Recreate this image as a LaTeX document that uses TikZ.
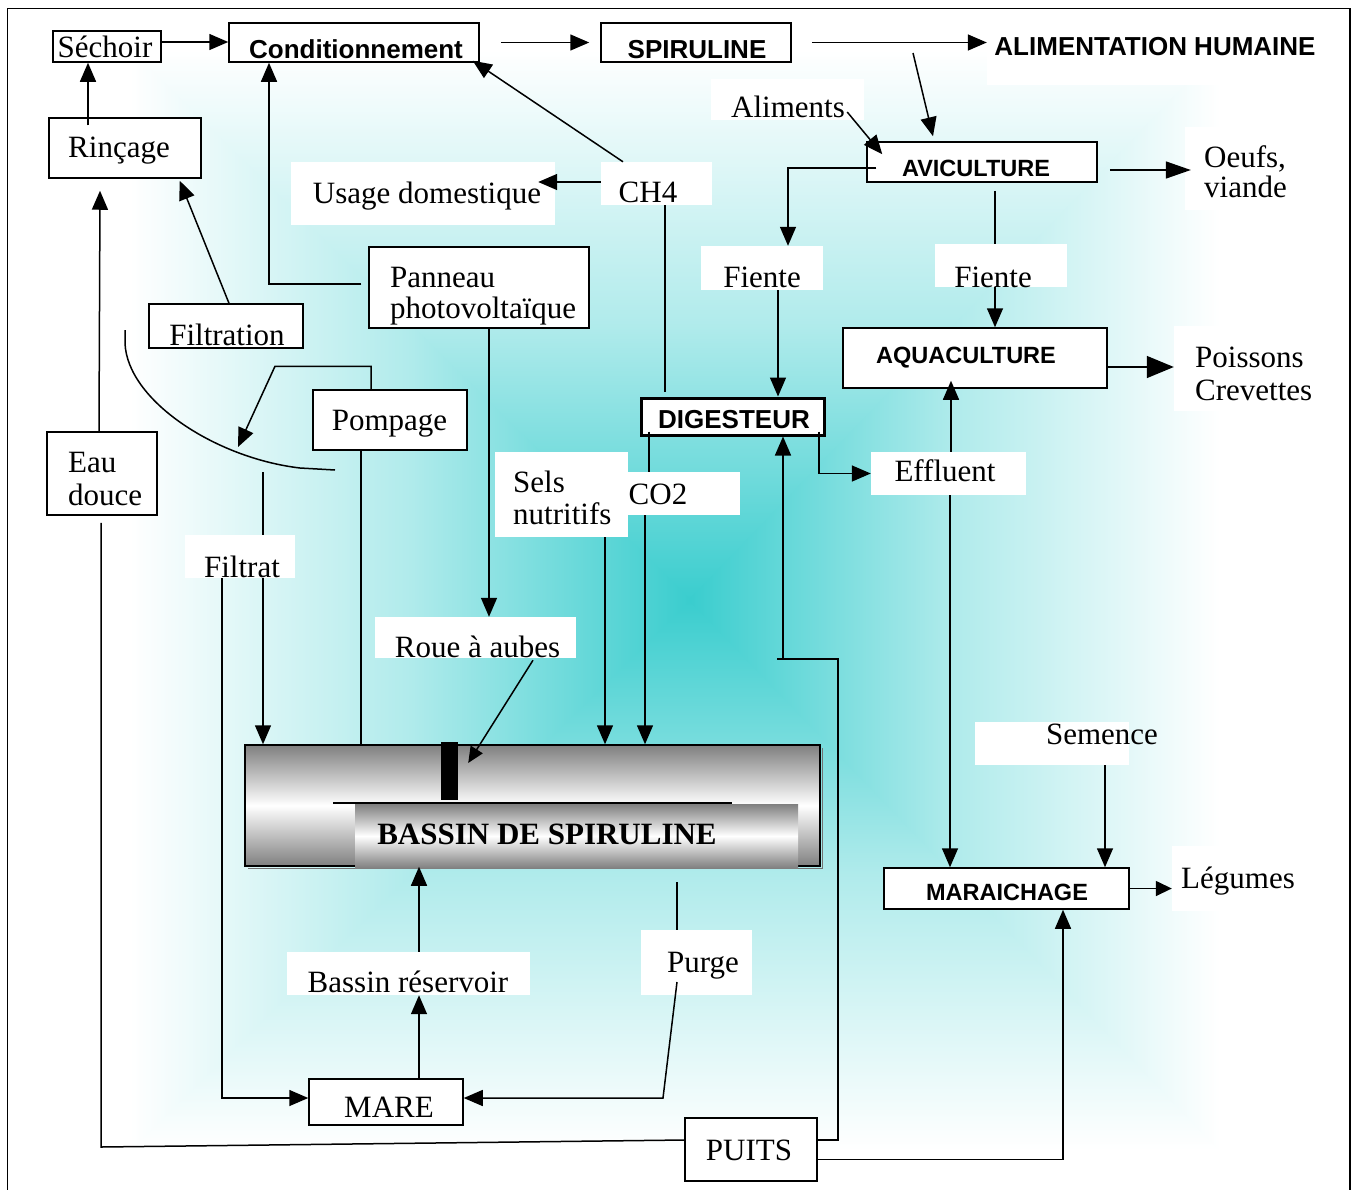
\documentclass[tikz,border=0pt]{standalone}
\usepackage{fontspec}
\setmainfont{Liberation Serif}
\newfontfamily\hsans{Liberation Sans}
\usetikzlibrary{arrows.meta}
\definecolor{tealc}{RGB}{58,205,206}
\begin{document}
\begin{tikzpicture}[x=1pt,y=-1pt,
  box/.style={draw, fill=white, line width=1.5pt, inner sep=0pt},
  lab/.style={fill=white, inner sep=0pt},
  tx/.style={font=\fontsize{31}{33}\selectfont, inner sep=0pt, anchor=base},
  txl/.style={font=\fontsize{31}{33}\selectfont, inner sep=0pt, anchor=base west},
  bs/.style={font=\hsans\bfseries\fontsize{26}{28}\selectfont, inner sep=0pt, anchor=base},
  bss/.style={font=\hsans\bfseries\fontsize{23.5}{26}\selectfont, inner sep=0pt, anchor=base},
  ln/.style={line width=1.5pt},
  arr/.style={line width=1.5pt, -{Triangle[length=19pt,width=16pt]}},
  bigarr/.style={line width=1.5pt, -{Triangle[length=27pt,width=22pt]}}]
\useasboundingbox (0,0) rectangle (1354,1189);
% background gradient (rectangular, from centre)
\begin{scope}
  \clip (8,9) rectangle (1349,1189);
  \begin{scope}
    \clip (130,50) -- (1220,50) -- (690,600) -- cycle;
    \shade[top color=white, bottom color=tealc, middle color=tealc!40!white] (130,50) rectangle (1220,600);
  \end{scope}
  \begin{scope}
    \clip (130,1150) -- (1220,1150) -- (690,600) -- cycle;
    \shade[top color=tealc, bottom color=white, middle color=tealc!40!white] (130,600) rectangle (1220,1150);
  \end{scope}
  \begin{scope}
    \clip (130,49) -- (691,600) -- (130,1151) -- cycle;
    \shade[left color=white, right color=tealc, middle color=tealc!40!white] (130,40) rectangle (690,1160);
  \end{scope}
  \begin{scope}
    \clip (1220,49) -- (689,600) -- (1220,1151) -- cycle;
    \shade[left color=tealc, right color=white, middle color=tealc!40!white] (690,40) rectangle (1220,1160);
  \end{scope}
\end{scope}
\draw[line width=1.8pt] (7.5,1195) -- (7.5,8.5) -- (1350,8.5) -- (1350,1195);

% boxes and labels
\node[box, minimum width=108pt, minimum height=31pt] (sech) at (107,46.5) {};
\node[tx] (sech-t) at (105,57) {Séchoir};
\node[box, minimum width=250pt, minimum height=39pt] (cond) at (354,42.5) {};
\node[bs] (cond-t) at (356,58) {Conditionnement};
\node[box, minimum width=190pt, minimum height=39pt] (spir) at (696,42.5) {};
\node[bs] (spir-t) at (697,58) {SPIRULINE};
\node[lab, minimum width=326pt, minimum height=60pt] (alim) at (1150,55) {};
\node[bs] (alim-t) at (1155,55) {ALIMENTATION HUMAINE};
\node[lab, minimum width=153pt, minimum height=41pt] (alimts) at (787.5,99.5) {};
\node[tx] (alimts-t) at (788,117) {Aliments};
\node[lab, minimum width=264pt, minimum height=63pt] (usage) at (423,193.5) {};
\node[tx] (usage-t) at (427,203) {Usage domestique};
\node[lab, minimum width=111pt, minimum height=43pt] (ch4) at (656.5,183.5) {};
\node[tx] (ch4-t) at (648,202) {CH4};
\node[box, minimum width=152pt, minimum height=60pt] (rinc) at (125,148) {};
\node[tx] (rinc-t) at (119,157) {Rinçage};
\node[box, minimum width=230pt, minimum height=40pt] (avic) at (982,162) {};
\node[bss] (avic-t) at (976,176) {AVICULTURE};
\node[lab, minimum width=135pt, minimum height=83pt] (oeufs) at (1252.5,168.5) {};
\node[txl] (oeufs-t1) at (1204,167) {Oeufs,};
\node[txl] (oeufs-t2) at (1204,197) {viande};
\node[lab, minimum width=122pt, minimum height=44pt] (fiente1) at (762,268) {};
\node[tx] (fiente1-t) at (762,287) {Fiente};
\node[lab, minimum width=132pt, minimum height=43pt] (fiente2) at (1001,265.5) {};
\node[tx] (fiente2-t) at (993,287) {Fiente};
\node[box, minimum width=220pt, minimum height=81pt] (panneau) at (479,287.5) {};
\node[txl] (panneau-t1) at (390,287) {Panneau};
\node[txl] (panneau-t2) at (390,318) {photovoltaïque};
\node[box, minimum width=154pt, minimum height=44pt] (filtration) at (226,326) {};
\node[tx] (filtration-t) at (227,345) {Filtration};
\node[box, minimum width=264pt, minimum height=60pt] (aqua) at (975,358) {};
\node[bss] (aqua-t) at (966,363) {AQUACULTURE};
\node[lab, minimum width=146pt, minimum height=85pt] (poiss) at (1247,368.5) {};
\node[txl] (poiss-t1) at (1195,367) {Poissons};
\node[txl] (poiss-t2) at (1195,400) {Crevettes};
\node[box, minimum width=154pt, minimum height=60pt] (pomp) at (390,420) {};
\node[tx] (pomp-t) at (389.5,430) {Pompage};
\node[box, line width=3pt, minimum width=183pt, minimum height=37pt] (dig) at (732.5,416.5) {};
\node[bs] (dig-t) at (734,428) {DIGESTEUR};
\node[lab, minimum width=155pt, minimum height=43pt] (effl) at (948.5,473.5) {};
\node[tx] (effl-t) at (945,481) {Effluent};
\node[box, minimum width=110pt, minimum height=83pt] (eau) at (102,473.5) {};
\node[txl] (eau-t1) at (68,472) {Eau};
\node[txl] (eau-t2) at (68,505) {douce};
\node[lab, minimum width=133pt, minimum height=85pt] (sels) at (561.5,494.5) {};
\node[txl] (sels-t1) at (513,492) {Sels};
\node[txl] (sels-t2) at (513,524) {nutritifs};
\node[lab, minimum width=112pt, minimum height=43pt] (co2) at (684,493.5) {};
\node[tx] (co2-t) at (658,504) {CO2};
\node[lab, minimum width=110pt, minimum height=43pt] (filtrat) at (240,556.5) {};
\node[tx] (filtrat-t) at (242,577) {Filtrat};
\node[lab, minimum width=201pt, minimum height=41pt] (roue) at (475.5,637.5) {};
\node[tx] (roue-t) at (477.5,657) {Roue à aubes};
\node[lab, minimum width=154pt, minimum height=43pt] (semence) at (1052,743.5) {};
\node[tx] (semence-t) at (1102,744) {Semence};
\node[box, minimum width=245pt, minimum height=41pt] (mara) at (1006.5,888.5) {};
\node[bss] (mara-t) at (1007,900) {MARAICHAGE};
\node[lab, minimum width=133pt, minimum height=65pt] (legumes) at (1238.5,878.5) {};
\node[tx] (legumes-t) at (1238,888) {Légumes};
\node[lab, minimum width=243pt, minimum height=43pt] (bres) at (408.5,973.5) {};
\node[tx] (bres-t) at (408,992) {Bassin réservoir};
\node[lab, minimum width=111pt, minimum height=65pt] (purge) at (696.5,962.5) {};
\node[tx] (purge-t) at (703,972) {Purge};
\node[box, minimum width=154pt, minimum height=46pt] (mare) at (386,1102) {};
\node[tx] (mare-t) at (389,1117) {MARE};
\node[box, minimum width=132pt, minimum height=63pt] (puits) at (751,1149.5) {};
\node[tx] (puits-t) at (749,1160) {PUITS};

% bassin
\draw[black!55, line width=1.5pt] (248,868.5) -- (822.5,868.5) -- (822.5,748);
\node[draw, line width=1.5pt, top color=black!50, bottom color=black!50, middle color=white,
      minimum width=575pt, minimum height=121pt, inner sep=0pt] (bassin) at (532.5,805.5) {};
\node[top color=black!50, bottom color=black!50, middle color=white,
      minimum width=443pt, minimum height=64pt, inner sep=0pt] (inner) at (576.5,836) {};
\draw[line width=1.2pt] (333,803) -- (732,803);
\node[font=\bfseries\fontsize{31}{33}\selectfont, inner sep=0pt, anchor=base] (bassin-t) at (547,844) {BASSIN DE SPIRULINE};
\node[fill=black, minimum width=17pt, minimum height=58pt, inner sep=0pt] (paddle) at (449.5,771) {};

% connectors
\coordinate (s1) at ([yshift=4.5pt]sech.east);
\draw[arr] (s1) -- (s1 -| cond.west);
\coordinate (s2) at ([xshift=21pt]cond.east);
\coordinate (s2e) at ([xshift=-11pt]spir.west);
\draw[arr] (s2) -- (s2e);
\coordinate (s3) at ([xshift=20pt]spir.east);
\draw[arr] (s3) -- (s3 -| alim.west);
\coordinate (s4) at (913,53);
\coordinate (s4e) at ([xshift=-49pt,yshift=5pt]avic.north);
\draw[arr] (s4) -- (s4e);
\coordinate (s5) at ([xshift=-17pt,yshift=-12.5pt]alimts.east);
\coordinate (s5e) at ([xshift=16pt,yshift=-13pt]avic.north west);
\draw[arr] (s5) -- (s5e);
\coordinate (s6) at ([xshift=12pt,yshift=-8pt]avic.east);
\coordinate (s6e) at ([xshift=6pt]s6 -| oeufs.west);
\draw[line width=1.5pt, -{Triangle[length=25pt,width=17pt]}] (s6) -- (s6e);
\coordinate (s7) at ([xshift=10pt,yshift=-6pt]avic.west);
\coordinate (s7e) at ([xshift=26pt]fiente1.north);
\draw[arr] (s7) -| (s7e);
\coordinate (s8) at ([xshift=13pt,yshift=-8pt]avic.south);
\draw[ln] (s8) -- (s8 |- fiente2.north);
\draw[arr] (s8 |- fiente2.south) -- (s8 |- aqua.north);
\coordinate (s9) at ([xshift=16pt]fiente1.south);
\draw[arr] (s9) -- (s9 |- dig.north);
\coordinate (s10) at ([xshift=8.5pt]ch4.south);
\coordinate (s10e) at ([xshift=-67.5pt,yshift=5pt]dig.north);
\draw[ln] (s10) -- (s10e);
\coordinate (s11) at ([xshift=-33.5pt]ch4.north);
\coordinate (s11e) at ([xshift=-7pt,yshift=2pt]cond.south east);
\draw[arr] (s11) -- (s11e);
\coordinate (s12) at ([yshift=1.5pt]ch4.west);
\coordinate (s12e) at ([xshift=-17pt,yshift=11.5pt]usage.east);
\draw[arr] (s12) -- (s12e);
\coordinate (s13) at ([xshift=-37pt,yshift=-8pt]rinc.north);
\draw[arr] (s13) -- (s13 |- sech.south);
\coordinate (s14) at ([xshift=-3pt]eau.north);
\coordinate (s14e) at ([xshift=-25pt,yshift=-12pt]rinc.south);
\draw[arr] (s14) -- (s14e);
\coordinate (s15) at ([xshift=3pt]filtration.north);
\coordinate (s15e) at ([xshift=-22pt,yshift=-2pt]rinc.south east);
\draw[arr] (s15) -- (s15e);
\coordinate (s16) at ([xshift=-7pt,yshift=3.5pt]panneau.west);
\coordinate (s16e) at ([xshift=-85pt]cond.south);
\draw[arr] (s16) -| (s16e);
\coordinate (s17) at ([xshift=10pt]panneau.south);
\draw[arr] (s17) -- (s17 |- roue.north);
\coordinate (s18) at ([xshift=-19pt]pomp.north);
\coordinate (s18e) at (238,447);
\draw[arr] (s18) -- ++(0,-23) -- ++(-96,0) -- (s18e);
\draw[ln] (125,330) -- (125,343) .. controls (127,400) and (215,458) .. (300,468) -- (335,470);
\coordinate (s20) at ([xshift=-29pt]pomp.south);
\draw[ln] (s20) -- (s20 |- bassin.north);
\coordinate (s21) at (263,472);
\draw[ln] (s21) -- (s21 |- filtrat.north);
\draw[arr] (s21 |- filtrat.south) -- (s21 |- bassin.north);
\coordinate (s23) at ([xshift=-18pt]filtrat.south);
\coordinate (s23e) at ([yshift=4pt]mare.west);
\draw[arr] (s23) |- (s23e);
\coordinate (s24) at ([xshift=43.5pt]sels.south);
\draw[arr] (s24) -- (s24 |- bassin.north);
\coordinate (s25) at ([xshift=-39pt]co2.south);
\draw[arr] (s25) -- (s25 |- bassin.north);
\coordinate (s26) at ([xshift=-83.5pt,yshift=5pt]dig.south);
\draw[ln] (s26) -- (s26 |- co2.north);
\coordinate (s27) at ([xshift=-6.5pt,yshift=5pt]dig.south east);
\draw[arr] (s27) |- (effl.west);
\coordinate (s28) at ([xshift=2.5pt]effl.north);
\coordinate (s28e) at ([xshift=-24pt,yshift=8pt]aqua.south);
\draw[arr] (s28) -- (s28e);
\coordinate (s29) at ([yshift=-9pt]aqua.east);
\draw[bigarr] (s29) -- (s29 -| poiss.west);
\coordinate (s30) at ([xshift=1.5pt]effl.south);
\draw[arr] (s30) -- (s30 |- mara.north);
\coordinate (s31) at ([xshift=53pt]semence.south);
\draw[arr] (s31) -- (s31 |- mara.north);
\draw[line width=1.5pt, -{Triangle[length=16pt,width=15pt]}] (mara.east) -- (mara.east -| legumes.west);
\coordinate (s33) at ([yshift=-10pt]puits.east);
\coordinate (s33e) at ([xshift=56.5pt]mara.south);
\draw[arr] (s33) -| (s33e);
\coordinate (s34) at ([yshift=9.5pt]puits.east);
\coordinate (s34k) at (838,659);
\draw[ln] (s34) -| (s34k) -- ++(-61,0);
\coordinate (s34b) at (783,659);
\draw[arr] (s34b) -- (s34b |- dig.south);
\coordinate (s35) at ([yshift=9.5pt]puits.west);
\coordinate (s35k) at (101,1147);
\coordinate (s35e) at ([xshift=-1pt,yshift=-7pt]eau.south);
\draw[ln] (s35) -- (s35k) -- (s35e);
\coordinate (s36) at ([xshift=33pt]mare.north);
\draw[arr] (s36) -- (s36 |- bres.south);
\draw[arr] (s36 |- bres.north) -- (s36 |- bassin.south);
\coordinate (s38) at (677,882);
\draw[ln] (s38) -- (s38 |- purge.north);
\coordinate (s39) at (677,982);
\coordinate (s39k) at (663,1098);
\draw[arr] (s39) -- (s39k) -- (s39k -| mare.east);
\coordinate (s40) at ([xshift=57.5pt,yshift=-2pt]roue.south);
\coordinate (s40e) at ([xshift=10pt,yshift=8pt]paddle.east);
\draw[line width=1.5pt, -{Triangle[length=16pt,width=14pt]}] (s40) -- (s40e);
\end{tikzpicture}
\end{document}
